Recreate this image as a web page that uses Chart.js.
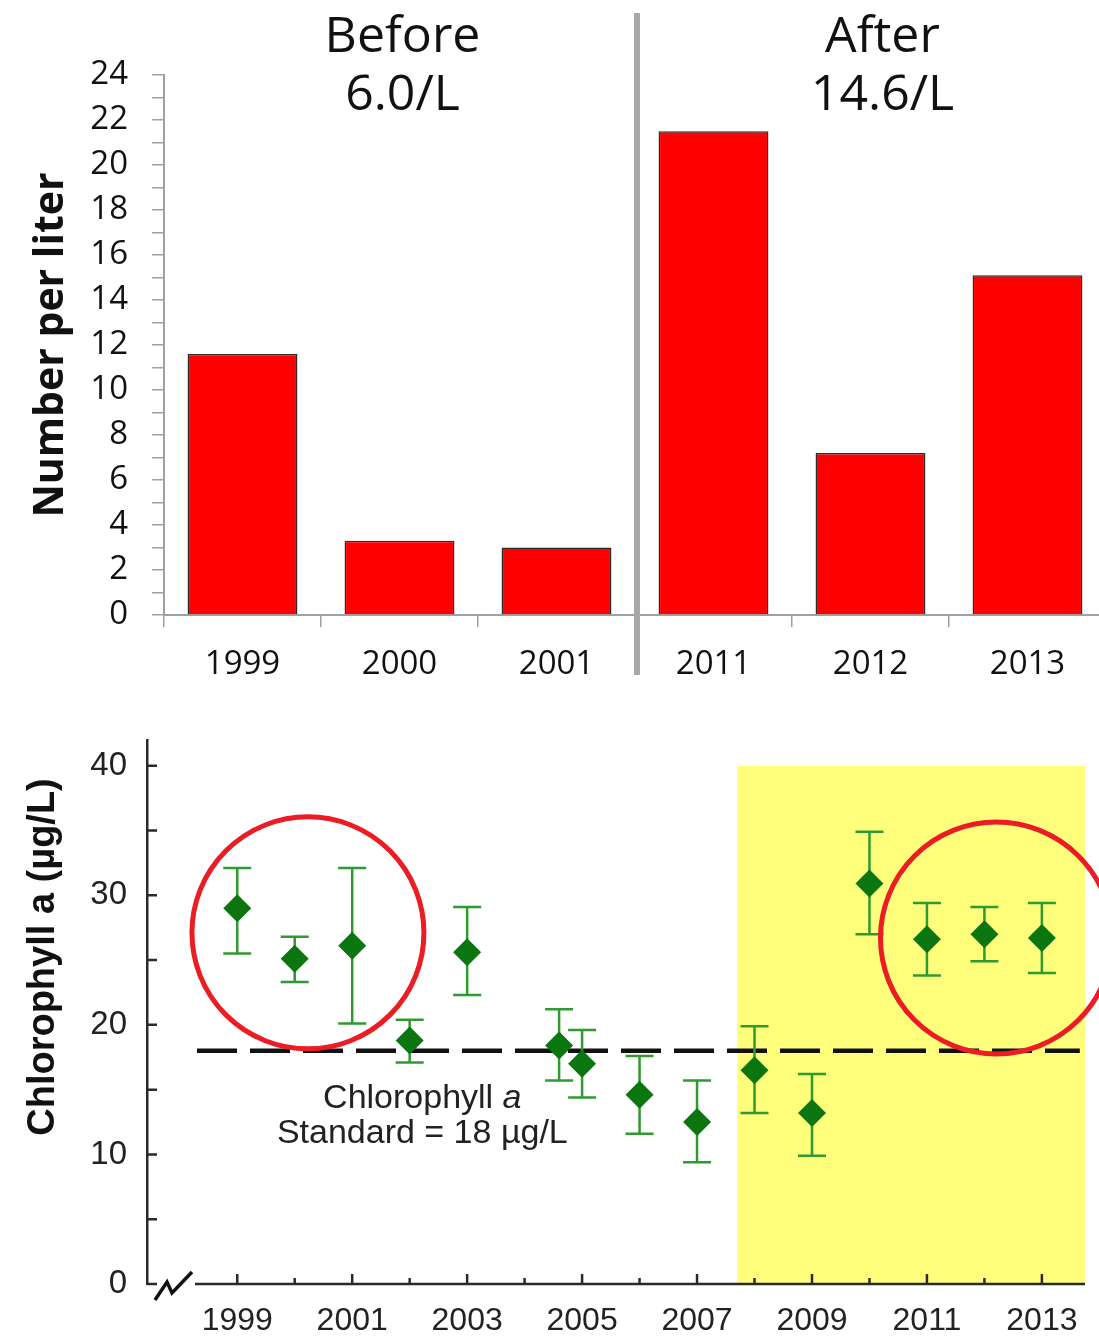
<!DOCTYPE html>
<html>
<head>
<meta charset="utf-8">
<script src="https://cdn.jsdelivr.net/npm/chart.js@4.4.1/dist/chart.umd.min.js"></script>
<style>
  html, body { margin: 0; padding: 0; background: #fff; overflow: hidden; width: 1099px; height: 1337px; }
  #countChart { position: absolute; left: 0; top: 0; }
  #chlChart { position: absolute; left: 0; top: 700px; }
</style>
</head>
<body>
<canvas id="countChart" width="1110" height="700"></canvas>
<canvas id="chlChart" width="1099" height="637"></canvas>
<script>
// ---- top panel: organisms per liter, before / after ----
const countYears = ['1999', '2000', '2001', '2011', '2012', '2013'];
const countValues = [11.6, 3.3, 3.0, 21.5, 7.2, 15.1];
const countTickLabels = [0, 2, 4, 6, 8, 10, 12, 14, 16, 18, 20, 22, 24];
const groupNames = ['Before', 'After'];
const groupSizes = [3, 3];

// ---- bottom panel: chlorophyll a, mean with error bars ----
const chlYears = [1999, 2000, 2001, 2002, 2003, 2004.6, 2005, 2006, 2007, 2008, 2009, 2010, 2011, 2012, 2013];
const chlMeans = [29.0, 25.1, 26.1, 18.8, 25.6, 18.4, 17.0, 14.6, 12.5, 16.5, 13.2, 30.9, 26.6, 27.0, 26.7];
const chlLow   = [25.5, 23.3, 20.1, 17.1, 22.3, 15.7, 14.4, 11.6, 9.4, 13.2, 9.9, 27.0, 23.8, 24.9, 24.0];
const chlHigh  = [32.1, 26.8, 32.1, 20.4, 29.1, 21.2, 19.6, 17.6, 15.7, 19.9, 16.2, 34.9, 29.4, 29.1, 29.4];
const chlTickLabels = [0, 10, 20, 30, 40];
const yearTickLabels = [1999, 2001, 2003, 2005, 2007, 2009, 2011, 2013];
const chlStandard = 18;
const standardSpan = [1998.3, 2013.66];
const afterPeriod = [2007.7, 2013.75];
const afterTop = 40;
const circledGroups = [[2000.23, 27.1], [2012.21, 26.7]];
const standardNote = ['Chlorophyll ', 'a', 'Standard = 18 µg/L'];
const notePos = [2002.22, 13.6, 10.9];

Chart.defaults.color = '#111';

const openSans = '"Open Sans", "DejaVu Sans", sans-serif';
const arial = '"Liberation Sans", Arial, sans-serif';

const countDecor = {
  id: 'countDecor',
  afterDraw(chart) {
    const ctx = chart.ctx;
    const x = chart.scales.x;
    const area = chart.chartArea;
    ctx.save();
    // separator between the two periods
    const sepX = (x.getPixelForValue(groupSizes[0] - 1) + x.getPixelForValue(groupSizes[0])) / 2 + 2;
    ctx.fillStyle = '#a8a8a8';
    ctx.fillRect(sepX - 3, area.top - 62, 6, area.bottom - area.top + 122);

    // group headings with their mean
    ctx.fillStyle = '#111';
    ctx.textAlign = 'center';
    ctx.font = '50px ' + openSans;
    let start = 0;
    const shift = [3, 12];
    groupNames.forEach(function (name, g) {
      const n = groupSizes[g];
      const vals = countValues.slice(start, start + n);
      const mean = vals.reduce(function (a, b) { return a + b; }, 0) / n;
      const cx = x.getPixelForValue(start + (n - 1) / 2) + shift[g];
      ctx.fillText(name, cx, 52);
      ctx.fillText(mean.toFixed(1) + '/L', cx, 110);
      start += n;
    });

    // y axis title
    ctx.translate(63, (area.top + area.bottom) / 2);
    ctx.rotate(-Math.PI / 2);
    ctx.font = 'bold 41px ' + openSans;
    ctx.fillText('Number per liter', 0, 0);
    ctx.restore();
  }
};

new Chart(document.getElementById('countChart'), {
  type: 'bar',
  data: {
    labels: countYears,
    datasets: [{
      data: countValues,
      backgroundColor: '#ff0000',
      borderColor: '#2b2b2b',
      borderWidth: 1.5,
      categoryPercentage: 1,
      barPercentage: 0.7
    }]
  },
  options: {
    responsive: false,
    animation: false,
    layout: { padding: { left: 0, right: 4, top: 75, bottom: 0 } },
    plugins: { legend: { display: false }, tooltip: { enabled: false } },
    scales: {
      x: {
        grid: { drawOnChartArea: false, tickLength: 12, color: '#a0a0a0', lineWidth: 1.5, offset: true },
        border: { color: '#a0a0a0', width: 2 },
        ticks: { font: { family: openSans, size: 33 }, color: '#111', padding: 18, maxRotation: 0 },
        afterFit: function (s) { s.height = 85; }
      },
      y: {
        min: 0,
        max: 24,
        grid: { drawOnChartArea: false, tickLength: 12, color: '#a0a0a0', lineWidth: 1.5 },
        border: { color: '#a0a0a0', width: 2 },
        ticks: {
          stepSize: 1,
          autoSkip: false,
          padding: 24,
          font: { family: openSans, size: 33 },
          color: '#111',
          callback: function (v) { return countTickLabels.includes(v) ? String(v) : ''; }
        },
        afterFit: function (s) { s.width = 164; }
      }
    }
  },
  plugins: [countDecor]
});

const chlDecor = {
  id: 'chlDecor',
  beforeDatasetsDraw(chart) {
    const ctx = chart.ctx;
    const x = chart.scales.x, y = chart.scales.y;
    ctx.save();
    ctx.fillStyle = '#ffff7c';
    const x0 = x.getPixelForValue(afterPeriod[0]);
    const x1 = x.getPixelForValue(afterPeriod[1]);
    const y0 = y.getPixelForValue(afterTop);
    const y1 = y.getPixelForValue(0);
    ctx.fillRect(x0, y0, x1 - x0, y1 - y0);
    ctx.restore();
  },
  beforeDatasetDraw(chart, args) {
    if (args.index !== 1) return;
    const ctx = chart.ctx;
    const x = chart.scales.x, y = chart.scales.y;
    ctx.save();
    ctx.strokeStyle = '#2f9a2f';
    ctx.lineWidth = 2.5;
    for (let i = 0; i < chlYears.length; i++) {
      const px = x.getPixelForValue(chlYears[i]);
      const lo = y.getPixelForValue(chlLow[i]);
      const hi = y.getPixelForValue(chlHigh[i]);
      ctx.beginPath();
      ctx.moveTo(px, lo); ctx.lineTo(px, hi);
      ctx.moveTo(px - 14, lo); ctx.lineTo(px + 14, lo);
      ctx.moveTo(px - 14, hi); ctx.lineTo(px + 14, hi);
      ctx.stroke();
    }
    ctx.restore();
  },
  afterDraw(chart) {
    const ctx = chart.ctx;
    const x = chart.scales.x, y = chart.scales.y;
    const area = chart.chartArea;
    const L = area.left, B = area.bottom;
    ctx.save();
    ctx.strokeStyle = '#2a2a2a';
    ctx.lineWidth = 2.5;

    // y ticks pointing inward
    ctx.beginPath();
    for (let v = 0; v <= 40; v += 5) {
      const py = y.getPixelForValue(v);
      ctx.moveTo(L, py); ctx.lineTo(L + 10, py);
    }
    // x axis with a break near the origin
    ctx.moveTo(L, B); ctx.lineTo(L + 8, B);
    ctx.moveTo(L + 48, B); ctx.lineTo(area.right, B);
    for (let yr = yearTickLabels[0]; yr <= yearTickLabels[yearTickLabels.length - 1]; yr++) {
      const px = x.getPixelForValue(yr);
      const len = yearTickLabels.includes(yr) ? 10 : 6;
      ctx.moveTo(px, B); ctx.lineTo(px, B - len);
    }
    ctx.stroke();

    ctx.strokeStyle = '#111';
    ctx.lineWidth = 3.5;
    ctx.beginPath();
    ctx.moveTo(L + 8, B + 16);
    ctx.lineTo(L + 20, B - 2);
    ctx.lineTo(L + 25, B + 9);
    ctx.lineTo(L + 45, B - 12);
    ctx.stroke();

    // red circles
    ctx.strokeStyle = '#ec1c24';
    ctx.lineWidth = 5;
    circledGroups.forEach(function (c) {
      ctx.beginPath();
      ctx.arc(x.getPixelForValue(c[0]), y.getPixelForValue(c[1]), 116, 0, Math.PI * 2);
      ctx.stroke();
    });

    // standard note
    ctx.fillStyle = '#222';
    ctx.textAlign = 'left';
    const nx = x.getPixelForValue(notePos[0]);
    const reg = '34px ' + arial, ital = 'italic 34px ' + arial;
    ctx.font = reg;
    const w1 = ctx.measureText(standardNote[0]).width;
    ctx.font = ital;
    const w2 = ctx.measureText(standardNote[1]).width;
    const sx = nx - (w1 + w2) / 2;
    ctx.font = reg;
    ctx.fillText(standardNote[0], sx, y.getPixelForValue(notePos[1]));
    ctx.font = ital;
    ctx.fillText(standardNote[1], sx + w1, y.getPixelForValue(notePos[1]));
    ctx.font = reg;
    ctx.textAlign = 'center';
    ctx.fillText(standardNote[2], nx, y.getPixelForValue(notePos[2]));

    // y axis title
    ctx.fillStyle = '#111';
    ctx.translate(54, 257);
    ctx.rotate(-Math.PI / 2);
    ctx.font = 'bold 38px ' + arial;
    ctx.fillText('Chlorophyll a (µg/L)', 0, 0);
    ctx.restore();
  }
};

new Chart(document.getElementById('chlChart'), {
  type: 'scatter',
  data: {
    datasets: [
      {
        type: 'line',
        data: standardSpan.map(function (v) { return { x: v, y: chlStandard }; }),
        borderColor: '#111',
        borderWidth: 4.5,
        borderDash: [40, 13],
        pointRadius: 0,
        order: 1
      },
      {
        data: chlYears.map(function (v, i) { return { x: v, y: chlMeans[i] }; }),
        pointStyle: 'rectRot',
        pointRadius: 14,
        backgroundColor: '#0b760f',
        borderColor: '#0b760f',
        borderWidth: 0,
        order: 0
      }
    ]
  },
  options: {
    responsive: false,
    animation: false,
    layout: { padding: { left: 0, right: 14, top: 38, bottom: 0 } },
    plugins: { legend: { display: false }, tooltip: { enabled: false } },
    scales: {
      x: {
        type: 'linear',
        min: 1997.43,
        max: 2013.75,
        grid: { display: false, drawTicks: false },
        border: { display: false },
        ticks: {
          stepSize: 1,
          includeBounds: false,
          autoSkip: false,
          maxRotation: 0,
          padding: 18,
          font: { family: arial, size: 32 },
          color: '#222',
          callback: function (v) { return yearTickLabels.includes(v) ? String(v) : ''; }
        },
        afterFit: function (s) { s.height = 53; }
      },
      y: {
        min: 0,
        max: 42,
        grid: { display: false, drawTicks: false },
        border: { color: '#2a2a2a', width: 2.5 },
        ticks: {
          stepSize: 10,
          includeBounds: false,
          padding: 20,
          font: { family: arial, size: 33 },
          color: '#222',
          callback: function (v) { return chlTickLabels.includes(v) ? String(v) : ''; }
        },
        afterFit: function (s) { s.width = 147; }
      }
    }
  },
  plugins: [chlDecor]
});
</script>
</body>
</html>
